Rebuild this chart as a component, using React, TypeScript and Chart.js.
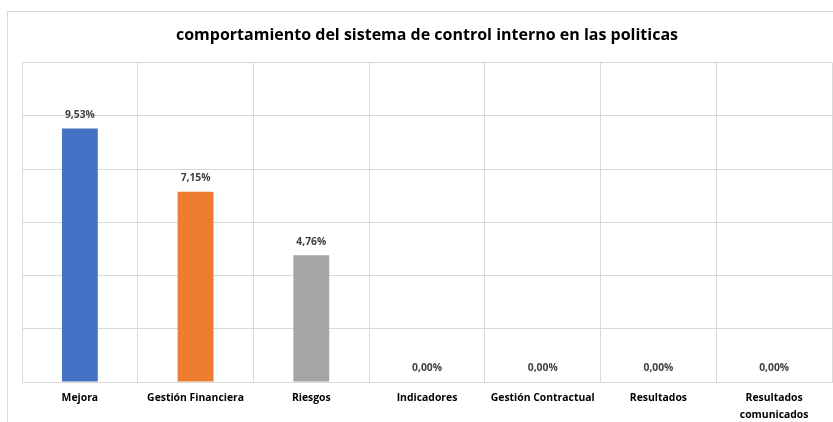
import React, { useEffect, useRef } from "react";
import { Chart, registerables } from "chart.js";

Chart.register(...registerables);

const TITLE = "comportamiento del sistema de control interno en las politicas";
const categories: (string | string[])[] = [
  "Mejora",
  "Gestión Financiera",
  "Riesgos",
  "Indicadores",
  "Gestión Contractual",
  "Resultados",
  ["Resultados", "comunicados"],
];
const values = [9.53, 7.15, 4.76, 0, 0, 0, 0];
const barColors = ["#4472C4", "#ED7D31", "#A5A5A5", "#FFC000", "#5B9BD5", "#70AD47", "#264478"];
const yMax = 12;
const yStep = 2;

const FONT = "'Open Sans', Lato, sans-serif";

const fmt = (v: number) => v.toFixed(2).replace(".", ",") + "%";

const outerBorder = {
  id: "outerBorder",
  beforeDraw(chart: any) {
    const { ctx } = chart;
    ctx.save();
    ctx.fillStyle = "#ffffff";
    ctx.fillRect(0, 0, chart.width, chart.height);
    ctx.strokeStyle = "#d9d9d9";
    ctx.lineWidth = 1;
    ctx.strokeRect(7.5, 11.5, 1000, 1000);
    ctx.restore();
  },
};

const dataLabels = {
  id: "dataLabels",
  afterDatasetsDraw(chart: any) {
    const { ctx } = chart;
    const meta = chart.getDatasetMeta(0);
    ctx.save();
    ctx.font = `bold 10.3px ${FONT}`;
    ctx.fillStyle = "#404040";
    ctx.textAlign = "center";
    ctx.textBaseline = "middle";
    meta.data.forEach((el: any, i: number) => {
      ctx.fillText(fmt(values[i]), el.x, el.y - 13.5);
    });
    ctx.restore();
  },
};

export default function App() {
  const ref = useRef<HTMLCanvasElement>(null);
  useEffect(() => {
    if (!ref.current) return;
    const chart = new Chart(ref.current, {
      type: "bar",
      data: {
        labels: categories,
        datasets: [
          {
            data: values,
            backgroundColor: barColors,
            barPercentage: 0.31,
            categoryPercentage: 1,
          },
        ],
      },
      options: {
        responsive: false,
        animation: false,
        layout: { padding: { left: 22, right: 1, top: 0, bottom: 0 } },
        plugins: {
          legend: { display: false },
          tooltip: { enabled: false },
          title: {
            display: true,
            text: TITLE,
            color: "#000000",
            font: { family: FONT, size: 16, weight: "bold", lineHeight: 1.2 },
            padding: { top: 25.5, bottom: 18 },
          },
        },
        scales: {
          x: {
            grid: { color: "#d9d9d9", drawTicks: false, offset: true },
            border: { color: "#d9d9d9" },
            ticks: {
              color: "#000000",
              padding: 8,
              maxRotation: 0,
              autoSkip: false,
              font: { family: FONT, size: 10.4, weight: "bold", lineHeight: 1.6 },
            },
            afterFit: (scale: any) => {
              scale.height = 40;
            },
          },
          y: {
            min: 0,
            max: yMax,
            grid: { color: "#d9d9d9", drawTicks: false },
            border: { display: false },
            ticks: { display: false, stepSize: yStep },
            afterFit: (scale: any) => {
              scale.width = 0;
            },
          },
        },
      },
      plugins: [outerBorder, dataLabels],
    });
    return () => chart.destroy();
  }, []);
  return (
    <div style={{ position: "absolute", left: 0, top: 0, width: 833, height: 422 }}>
      <canvas ref={ref} width={833} height={422} />
    </div>
  );
}
